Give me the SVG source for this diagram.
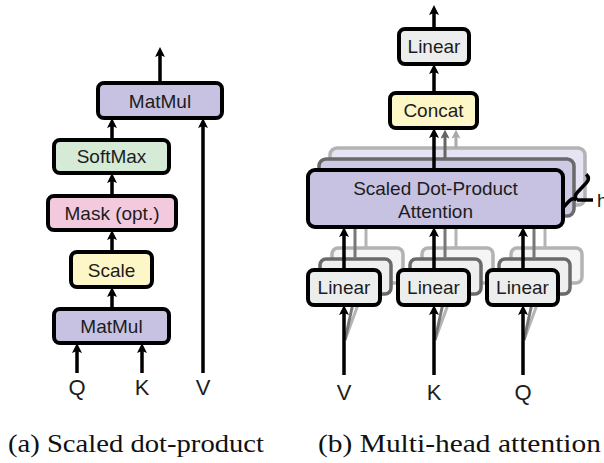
<svg xmlns="http://www.w3.org/2000/svg" width="604" height="463" viewBox="0 0 604 463">
  <defs>
    <style>
      .box { stroke: #000; stroke-width: 4; }
      .purple { fill: #c7c2e2; }
      .green { fill: #d5ebd5; }
      .pink { fill: #f3c9de; }
      .yellow { fill: #fdf6c7; }
      .grey { fill: #eceeee; }
      .lbl { font-family: "Liberation Sans", Arial, sans-serif; font-size: 19px; fill: #1c1c1c; text-anchor: middle; }
      .io { font-family: "Liberation Sans", Arial, sans-serif; font-size: 22px; fill: #1c1c1c; text-anchor: middle; }
      .cap { font-family: "Liberation Serif", "Times New Roman", serif; font-size: 26px; fill: #111; }
      .arr { stroke: #000; stroke-width: 3.5; fill: none; marker-end: url(#ah); }
      .arr2 { stroke: #666; stroke-width: 3; fill: none; marker-end: url(#ah2); }
      .arr3 { stroke: #aaa; stroke-width: 3; fill: none; marker-end: url(#ah3); }
      .ln { stroke: #000; stroke-width: 3.5; fill: none; }
      .ln2 { stroke: #777; stroke-width: 3; fill: none; }
      .ln3 { stroke: #b4b4b4; stroke-width: 3; fill: none; }
      .mid { stroke: #6a6a6a; stroke-width: 3.5; }
      .back { stroke: #b3b3b3; stroke-width: 3.5; }
      .midP { fill: #ceCAE6; }
      .backP { fill: #e6e4f2; }
      .midG { fill: #efefef; }
      .backG { fill: #f5f5f5; }
    </style>
    <marker id="ah" viewBox="0 0 10 10" refX="4" refY="5" markerUnits="userSpaceOnUse" markerWidth="10" markerHeight="10" orient="auto">
      <path d="M0,0 L10,5 L0,10 L2,5 z" fill="#000"/>
    </marker>
    <marker id="ah2" viewBox="0 0 10 10" refX="4" refY="5" markerUnits="userSpaceOnUse" markerWidth="9" markerHeight="9" orient="auto">
      <path d="M0,0 L10,5 L0,10 L2,5 z" fill="#666"/>
    </marker>
    <marker id="ah3" viewBox="0 0 10 10" refX="4" refY="5" markerUnits="userSpaceOnUse" markerWidth="9" markerHeight="9" orient="auto">
      <path d="M0,0 L10,5 L0,10 L2,5 z" fill="#aaa"/>
    </marker>
    <filter id="soft" x="-5%" y="-5%" width="110%" height="110%">
      <feGaussianBlur stdDeviation="0.5"/>
    </filter>
  </defs>

  <rect width="604" height="463" fill="#fff"/>

  <!-- stacked head copies behind the front layer -->
  <g id="head-copies" filter="url(#soft)">
    <rect class="back backP" x="330" y="148" width="255" height="57" rx="7"/>
    <rect class="mid midP" x="319" y="159" width="255" height="57" rx="7"/>
    <rect class="back backG" x="332" y="248" width="71" height="35" rx="6"/>
    <rect class="mid midG" x="320" y="259" width="71" height="35" rx="6"/>
    <rect class="back backG" x="422" y="248" width="71" height="35" rx="6"/>
    <rect class="mid midG" x="410" y="259" width="71" height="35" rx="6"/>
    <rect class="back backG" x="511" y="248" width="71" height="35" rx="6"/>
    <rect class="mid midG" x="499" y="259" width="71" height="35" rx="6"/>
  </g>

  <g id="connectors">
    <!-- scaled dot-product attention -->
    <line class="arr" x1="160" y1="83" x2="160" y2="53"/>
    <line class="arr" x1="112" y1="140" x2="112" y2="124"/>
    <line class="arr" x1="112" y1="196" x2="112" y2="179"/>
    <line class="arr" x1="112" y1="252" x2="112" y2="236"/>
    <line class="arr" x1="112" y1="309" x2="112" y2="293"/>
    <line class="arr" x1="77" y1="373" x2="77" y2="349"/>
    <line class="arr" x1="142" y1="373" x2="142" y2="349"/>
    <line class="arr" x1="203" y1="373" x2="203" y2="124"/>

    <!-- multi-head attention -->
    <line class="arr" x1="434" y1="29" x2="434" y2="11"/>
    <line class="arr" x1="434" y1="93" x2="434" y2="70"/>
    <line class="arr3" x1="456" y1="148" x2="456" y2="135"/>
    <line class="arr2" x1="445" y1="159" x2="445" y2="135"/>
    <line class="arr" x1="434" y1="170" x2="434" y2="134"/>

    <line class="ln3" x1="366" y1="248" x2="366" y2="205"/>
    <line class="ln2" x1="355" y1="259" x2="355" y2="216"/>
    <line class="arr" x1="344" y1="270" x2="344" y2="233"/>
    <line class="ln3" x1="456" y1="248" x2="456" y2="205"/>
    <line class="ln2" x1="445" y1="259" x2="445" y2="216"/>
    <line class="arr" x1="434" y1="270" x2="434" y2="233"/>
    <line class="ln3" x1="545" y1="248" x2="545" y2="205"/>
    <line class="ln2" x1="534" y1="259" x2="534" y2="216"/>
    <line class="arr" x1="523" y1="270" x2="523" y2="233"/>

    <line class="ln3" x1="345" y1="340" x2="366" y2="283"/>
    <line class="ln2" x1="345" y1="340" x2="355" y2="294"/>
    <line class="ln3" x1="435" y1="340" x2="456" y2="283"/>
    <line class="ln2" x1="435" y1="340" x2="445" y2="294"/>
    <line class="ln3" x1="524" y1="340" x2="545" y2="283"/>
    <line class="ln2" x1="524" y1="340" x2="534" y2="294"/>

    <line class="arr" x1="344" y1="375" x2="344" y2="311"/>
    <line class="arr" x1="434" y1="375" x2="434" y2="311"/>
    <line class="arr" x1="523" y1="375" x2="523" y2="311"/>

    <!-- brace marking the h parallel heads -->
    <path class="ln" stroke-width="3" d="M0,-25 C4,-25 6,-23 6,-19 L6,-6 C6,-2 8,0 11,0 C8,0 6,2 6,6 L6,19 C6,23 4,25 0,25" transform="translate(569,192.5) rotate(43.4)"/>
    <line class="ln" stroke-width="2" x1="577" y1="200" x2="593" y2="200"/>
  </g>

  <!-- (a) scaled dot-product attention -->
  <g id="matmul-out">
    <rect class="box purple" x="98" y="83" width="124" height="35" rx="6"/>
    <text class="lbl" x="160" y="107.5">MatMul</text>
  </g>
  <g id="softmax">
    <rect class="box green" x="54" y="140" width="115" height="33" rx="6"/>
    <text class="lbl" x="111.5" y="163">SoftMax</text>
  </g>
  <g id="mask">
    <rect class="box pink" x="48" y="196" width="128" height="34" rx="6"/>
    <text class="lbl" x="112" y="219.5">Mask (opt.)</text>
  </g>
  <g id="scale">
    <rect class="box yellow" x="71" y="252" width="81" height="35" rx="6"/>
    <text class="lbl" x="111.5" y="276.5">Scale</text>
  </g>
  <g id="matmul-in">
    <rect class="box purple" x="54" y="309" width="115" height="34" rx="6"/>
    <text class="lbl" x="111.5" y="332.5">MatMul</text>
  </g>
  <g id="inputs-a">
    <text class="io" x="77" y="395">Q</text>
    <text class="io" x="142" y="395">K</text>
    <text class="io" x="203" y="395">V</text>
  </g>

  <!-- (b) multi-head attention -->
  <g id="linear-out">
    <rect class="box grey" x="399" y="29" width="70" height="35" rx="6"/>
    <text class="lbl" x="434" y="53">Linear</text>
  </g>
  <g id="concat">
    <rect class="box yellow" x="390" y="93" width="87" height="35" rx="6"/>
    <text class="lbl" x="433.5" y="117">Concat</text>
  </g>
  <g id="attention">
    <rect class="box purple" x="308" y="170" width="255" height="57" rx="7"/>
    <text class="lbl" x="435.5" y="195">Scaled Dot-Product</text>
    <text class="lbl" x="435.5" y="218">Attention</text>
  </g>
  <g id="linear-v">
    <rect class="box grey" x="308" y="270" width="72" height="35" rx="6"/>
    <text class="lbl" x="344" y="294">Linear</text>
  </g>
  <g id="linear-k">
    <rect class="box grey" x="398" y="270" width="71" height="35" rx="6"/>
    <text class="lbl" x="433.5" y="294">Linear</text>
  </g>
  <g id="linear-q">
    <rect class="box grey" x="487" y="270" width="71" height="35" rx="6"/>
    <text class="lbl" x="522.5" y="294">Linear</text>
  </g>
  <g id="inputs-b">
    <text class="io" x="344" y="400">V</text>
    <text class="io" x="434" y="400">K</text>
    <text class="io" x="523" y="400">Q</text>
    <text class="lbl" x="597" y="207" text-anchor="start" style="text-anchor:start">h</text>
  </g>

  <g id="captions">
    <text class="cap" x="8" y="452" textLength="256" lengthAdjust="spacingAndGlyphs">(a) Scaled dot-product</text>
    <text class="cap" x="318" y="452" textLength="283" lengthAdjust="spacingAndGlyphs">(b) Multi-head attention</text>
  </g>
</svg>
